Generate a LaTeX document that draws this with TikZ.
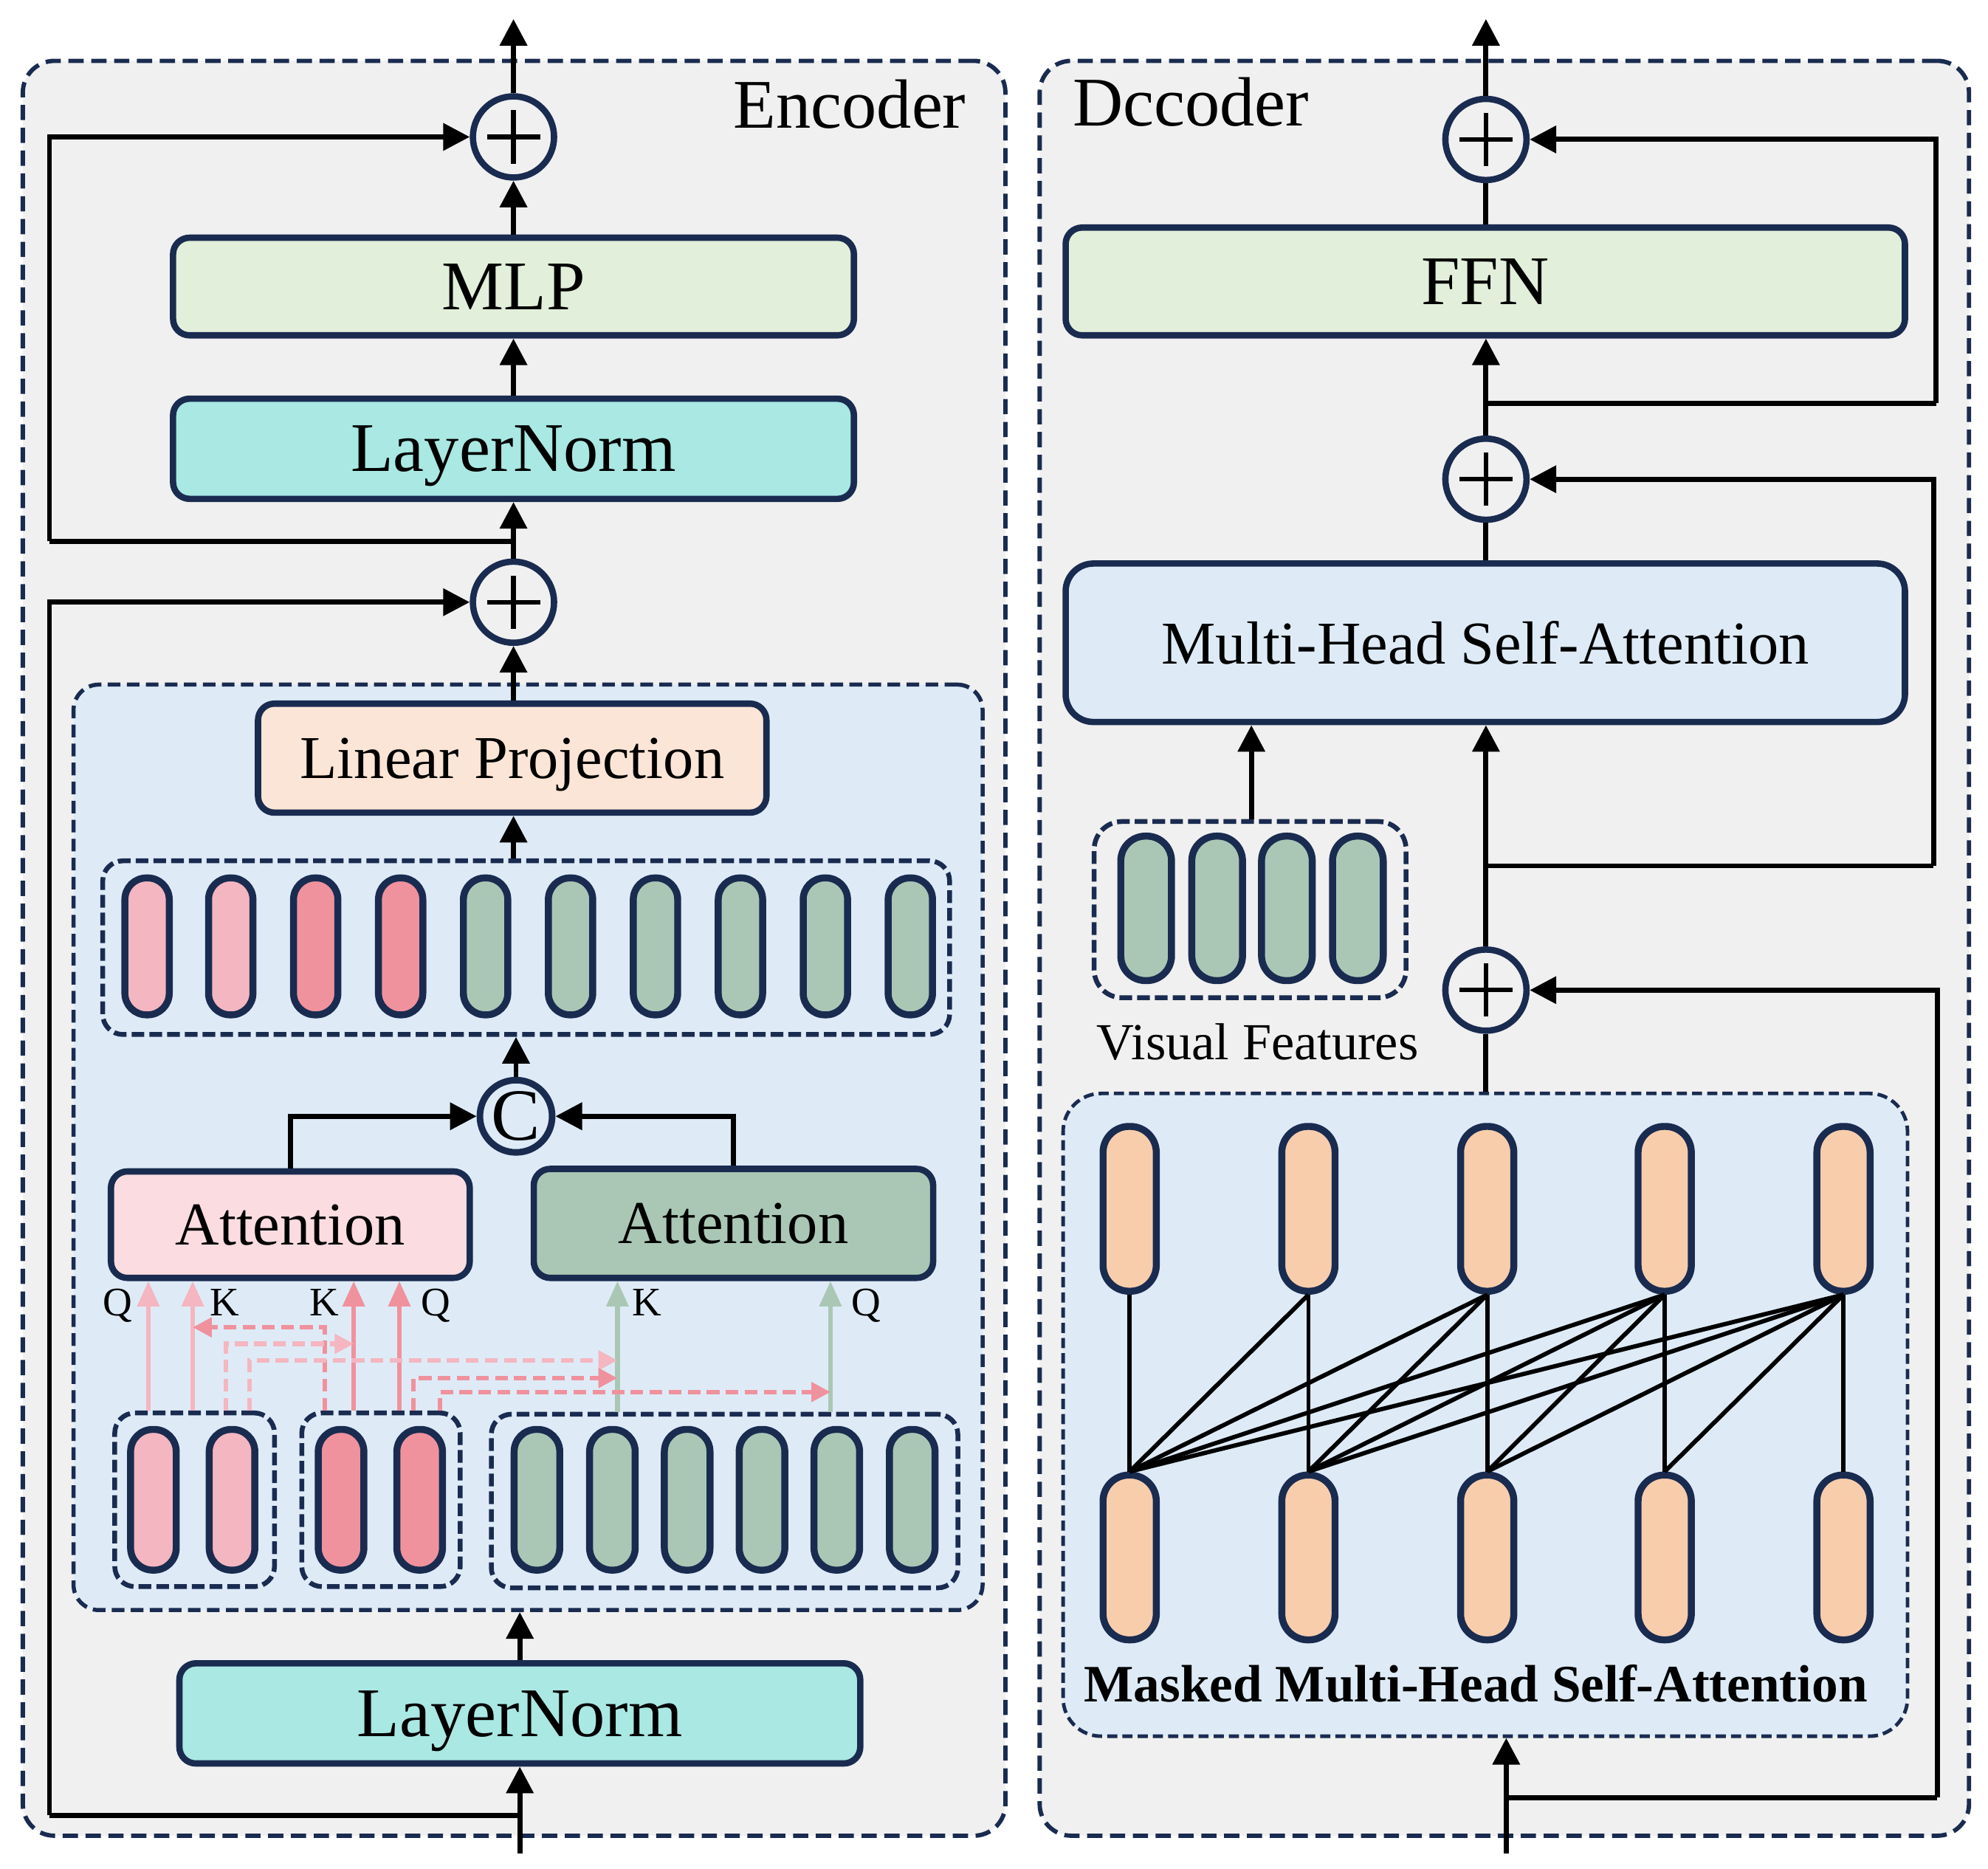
\documentclass[tikz,border=0pt]{standalone}
\usepackage{fontspec}
\setmainfont{Liberation Serif}
\usetikzlibrary{arrows.meta}
\definecolor{navy}{HTML}{1A2B50}
\definecolor{bgc}{HTML}{F0F0F0}
\definecolor{innerblue}{HTML}{DEEBF7}
\definecolor{mlpc}{HTML}{E2EFDA}
\definecolor{lnc}{HTML}{A9E8E3}
\definecolor{lpc}{HTML}{FBE5D6}
\definecolor{attl}{HTML}{FADCE1}
\definecolor{pinkL}{HTML}{F4B6C0}
\definecolor{pinkD}{HTML}{EF929E}
\definecolor{sage}{HTML}{AAC7B5}
\definecolor{peach}{HTML}{F8CDAC}
\begin{document}
\begin{tikzpicture}[x=1pt,y=-1pt,
  arr/.style={draw=black,line width=4,-{Triangle[width=21,length=21]}},
  plainline/.style={draw=black,line width=4},
  box/.style={draw=navy,line width=5,rounded corners=13,inner sep=0,text depth=0pt},
  bigtxt/.style={font=\fontsize{55}{60}\selectfont},
  midtxt/.style={font=\fontsize{48}{54}\selectfont},
  pill/.style={draw=navy,line width=5.5,inner sep=0},
  plus/.style={circle,draw=navy,line width=5,fill=bgc,minimum size=64,inner sep=0,
    path picture={\draw[black,line width=3.6]
      ([xshift=-21pt]path picture bounding box.center) -- ([xshift=21pt]path picture bounding box.center)
      ([yshift=-21pt]path picture bounding box.center) -- ([yshift=21pt]path picture bounding box.center);}},
  outerbox/.style={draw=navy,line width=3.4,dash pattern=on 12 off 6,rounded corners=25,fill=bgc,inner sep=0},
  grp/.style={draw=navy,line width=3.8,dash pattern=on 10 off 4,rounded corners=16,inner sep=0},
  qk/.style={font=\fontsize{32}{36}\selectfont,anchor=base,inner sep=0},
  parrL/.style={draw=pinkL,line width=3.6,-{Triangle[width=17,length=20]}},
  parrD/.style={draw=pinkD,line width=3.6,-{Triangle[width=17,length=20]}},
  garr/.style={draw=sage,line width=3.6,-{Triangle[width=17,length=20]}},
  dashL/.style={draw=pinkL,line width=3.6,dash pattern=on 10 off 5,-{Triangle[width=15,length=15]}},
  dashD/.style={draw=pinkD,line width=3.6,dash pattern=on 10 off 5,-{Triangle[width=15,length=15]}},
  attline/.style={draw=black,line width=3.4}
]
\useasboundingbox (0,0) rectangle (1568,1474);
\fill[white] (0,0) rectangle (1568,1474);

% ---------------- outer boxes ----------------
\node[outerbox,minimum width=775,minimum height=1400] (enc) at (405.5,748) {};
\node[outerbox,minimum width=733,minimum height=1400] (dec) at (1186.5,748) {};
\node[bigtxt,anchor=base east,inner sep=0] (enclabel) at (762,101) {Encoder};
\node[bigtxt,anchor=base west,inner sep=0] (declabel) at (846,99) {Dccoder};

% ---------------- encoder ----------------
\node[plus] (p1) at (405,108) {};
\node[box,fill=mlpc,bigtxt,minimum width=537,minimum height=77] (mlp) at (405,226) {MLP};
\node[box,fill=lnc,bigtxt,minimum width=537,minimum height=79] (ln1) at (405,354) {LayerNorm};
\node[plus] (p2) at (405,475) {};
\node[draw=navy,line width=3.2,dash pattern=on 10 off 5,rounded corners=20,fill=innerblue,inner sep=0,minimum width=717,minimum height=730] (inner) at (416.5,905) {};
\node[box,fill=lpc,midtxt,minimum width=401,minimum height=86] (lp) at (404,598) {Linear Projection};
\node[grp,minimum width=668,minimum height=137] (tokrow) at (415,747.5) {};
\foreach \x/\c [count=\i] in {116/pinkL,182/pinkL,249/pinkD,316/pinkD,383/sage,450/sage,517/sage,584/sage,651/sage,718/sage}
  \node[pill,fill=\c,minimum width=35,minimum height=108,rounded corners=17] (et\i) at (\x,746.5) {};
\node[circle,draw=navy,line width=5.2,fill=innerblue,minimum size=57,inner sep=0,font=\fontsize{58}{60}\selectfont] (cc) at (407,880.5) {C};
\node[box,fill=attl,midtxt,minimum width=283,minimum height=84] (attL) at (229,966) {Attention};
\node[box,fill=sage,midtxt,minimum width=315,minimum height=86] (attR) at (578.5,965) {Attention};
\node[grp,minimum width=126,minimum height=137] (g1) at (153.5,1183) {};
\node[grp,minimum width=125,minimum height=137] (g2) at (300.5,1183) {};
\node[grp,minimum width=368,minimum height=137] (g3) at (571.5,1184) {};
\foreach \x/\c [count=\i] in {121/pinkL,183/pinkL,269/pinkD,331/pinkD,423.5/sage,483/sage,542/sage,601/sage,660/sage,719.5/sage}
  \node[pill,fill=\c,minimum width=36,minimum height=111,rounded corners=17.5] (lt\i) at (\x,1183) {};
\node[box,fill=lnc,bigtxt,minimum width=537,minimum height=79] (ln2) at (410,1351.5) {LayerNorm};

% encoder connectors
\coordinate (etop) at (405,15);
\coordinate (eb1) at (405,427);
\coordinate (eb2) at (410,1432);
\coordinate (ein) at (410,1462);
\coordinate (exl) at (39,0);
\draw[arr] (p1.north) -- (etop);
\draw[arr] (mlp.north) -- (p1.south);
\draw[arr] (ln1.north) -- (mlp.south);
\draw[arr] (p2.north) -- (ln1.south);
\draw[plainline] (eb1) -- (exl |- eb1);
\draw[arr] (exl |- eb1) |- (p1.west);
\draw[arr] (lp.north -| p2.south) -- (p2.south);
\draw[arr] (tokrow.north -| p2.south) -- (lp.south -| p2.south);
\draw[arr] (cc.north) -- (cc.north |- tokrow.south);
\draw[arr] (attL.north) |- (cc.west);
\draw[arr] (attR.north) |- (cc.east);
\draw[arr] (ein) -- (ln2.south);
\draw[arr] (ln2.north) -- (ln2.north |- inner.south);
\draw[plainline] (eb2) -- (exl |- eb2);
\draw[arr] (exl |- eb2) |- (p2.west);

% Q/K arrows
\coordinate (xq1) at (117,0);
\coordinate (xk1) at (152,0);
\coordinate (xk2) at (279,0);
\coordinate (xq2) at (315,0);
\coordinate (xk3) at (487,0);
\coordinate (xq3) at (655,0);
\draw[parrL] (xq1 |- g1.north) -- (xq1 |- attL.south);
\draw[parrL] (xk1 |- g1.north) -- (xk1 |- attL.south);
\draw[parrD] (xk2 |- g2.north) -- (xk2 |- attL.south);
\draw[parrD] (xq2 |- g2.north) -- (xq2 |- attL.south);
\draw[garr] (xk3 |- g3.north) -- (xk3 |- attR.south);
\draw[garr] (xq3 |- g3.north) -- (xq3 |- attR.south);
\node[qk] (lq1) at (93,1038) {Q};
\node[qk] (lk1) at (177,1038) {K};
\node[qk] (lk2) at (256,1038) {K};
\node[qk] (lq2) at (344,1038) {Q};
\node[qk] (lk3) at (510,1038) {K};
\node[qk] (lq3) at (683,1038) {Q};
% dashed routing arrows
\coordinate (d1) at (256,1047);
\coordinate (d2) at (178,1060);
\coordinate (d3) at (197,1073);
\coordinate (d4) at (326,1087);
\coordinate (d5) at (347,1098);
\draw[dashD] (d1 |- g2.north) -- (d1) -- (xk1 |- d1);
\draw[dashL] (d2 |- g1.north) -- (d2) -- (xk2 |- d2);
\draw[dashL] (d3 |- g1.north) -- (d3) -- (xk3 |- d3);
\draw[dashD] (d4 |- g2.north) -- (d4) -- (xk3 |- d4);
\draw[dashD] (d5 |- g2.north) -- (d5) -- (xq3 |- d5);

% ---------------- decoder ----------------
\node[plus] (p4) at (1172,110) {};
\node[box,fill=mlpc,bigtxt,minimum width=662,minimum height=85] (ffn) at (1171.5,222) {FFN};
\node[plus] (p5) at (1172,378) {};
\node[box,fill=innerblue,midtxt,minimum width=662,minimum height=125,rounded corners=22] (mhsa) at (1171.5,507) {Multi-Head Self-Attention};
\node[plus] (p6) at (1172,781) {};
\node[grp,minimum width=246,minimum height=139,rounded corners=22] (vf) at (986,717.5) {};
\foreach \x [count=\i] in {904,960,1015,1071}
  \node[pill,fill=sage,minimum width=40,minimum height=114,rounded corners=19.5] (vt\i) at (\x,716.5) {};
\node[font=\fontsize{41}{46}\selectfont,inner sep=0] (vflabel) at (992,822) {Visual Features};
\node[draw=navy,line width=2.8,dash pattern=on 8 off 4,rounded corners=30,fill=innerblue,inner sep=0,minimum width=666,minimum height=507] (masked) at (1171.5,1116) {};
\foreach \x [count=\i] in {891,1032,1173,1313,1454} {
  \node[pill,fill=peach,minimum width=42,minimum height=130,rounded corners=20.5] (mt\i) at (\x,953.5) {};
  \node[pill,fill=peach,minimum width=42,minimum height=130,rounded corners=20.5] (mb\i) at (\x,1228.5) {};
}
\foreach \i in {1,...,5}
  \foreach \j in {1,...,\i}
    \draw[attline] (mt\i.south) -- (mb\j.north);
\node[font=\bfseries\fontsize{41.5}{46}\selectfont,inner sep=0] (mlabel) at (1164,1328) {Masked Multi-Head Self-Attention};

% decoder connectors
\coordinate (dtop) at (1172,15);
\coordinate (db1) at (1172,318);
\coordinate (db2) at (1172,683);
\coordinate (db3) at (1188,1418);
\coordinate (din) at (1188,1462);
\coordinate (dxr1) at (1527,0);
\coordinate (dxr2) at (1525,0);
\coordinate (dxr3) at (1528,0);
\coordinate (vfx) at (987,0);
\draw[arr] (p4.north) -- (dtop);
\draw[plainline] (p4.south |- ffn.north) -- (p4.south);
\draw[arr] (p5.north) -- (p5.north |- ffn.south);
\draw[plainline] (db1) -- (dxr1 |- db1);
\draw[arr] (dxr1 |- db1) |- (p4.east);
\draw[plainline] (p5.south |- mhsa.north) -- (p5.south);
\draw[arr] (p6.north) -- (p6.north |- mhsa.south);
\draw[plainline] (db2) -- (dxr2 |- db2);
\draw[arr] (dxr2 |- db2) |- (p5.east);
\draw[arr] (vfx |- vf.north) -- (vfx |- mhsa.south);
\draw[plainline] (masked.north -| p6.south) -- (p6.south);
\draw[arr] (din) -- (din |- masked.south);
\draw[plainline] (db3) -- (dxr3 |- db3);
\draw[arr] (dxr3 |- db3) |- (p6.east);
\end{tikzpicture}
\end{document}
